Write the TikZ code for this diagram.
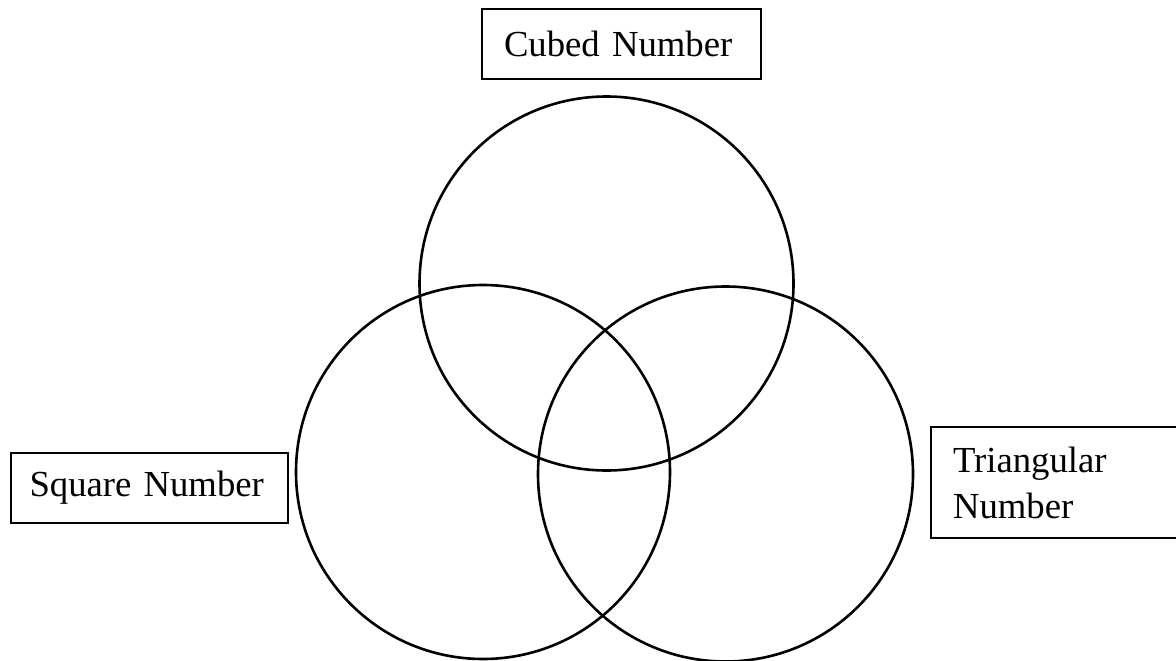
\documentclass[tikz,border=0pt]{standalone}
\usepackage{fontspec}
\setmainfont{Liberation Serif}
\usetikzlibrary{positioning}

\begin{document}
\begin{tikzpicture}[
  x=1pt, y=-1pt,
  settext/.style={font=\fontsize{36.7}{46}\selectfont},
  setcircle/.style={circle, draw, line width=2.6pt, minimum size=374pt, inner sep=0pt},
  namebox/.style={rectangle, draw, line width=1.5pt, settext, align=left, inner xsep=22pt, inner ysep=0pt, minimum height=70pt}
]
\clip (0,0) rectangle (1176,661);
\node[setcircle] (cubecircle) at (606.5,283.5) {};
\node[setcircle] (squarecircle) at (483,472) {};
\node[setcircle, minimum size=375pt] (tricircle) at (725.5,474) {};
\node[namebox, text width=235pt] (cubebox) at (621.5,44) {Cubed Number};
\node[namebox, text width=240pt, inner xsep=18.5pt] (squarebox) at (149.5,488) {Square Number};
\node[namebox, text width=236pt, minimum height=111pt] (tribox) at (1071,482.5) {Triangular\\Number};
\end{tikzpicture}
\end{document}
